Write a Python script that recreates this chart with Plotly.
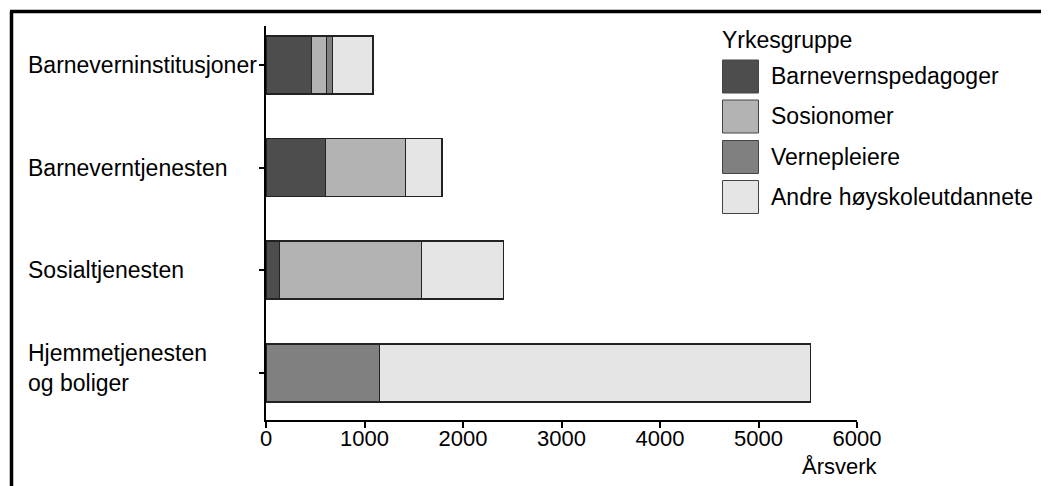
import plotly.graph_objects as go

# ---- data ----
categories = ["Barneverninstitusjoner", "Barneverntjenesten", "Sosialtjenesten", "Hjemmetjenesten og boliger"]
category_labels = ["Barneverninstitusjoner", "Barneverntjenesten", "Sosialtjenesten", "Hjemmetjenesten<br>og boliger"]
series_names = ["Barnevernspedagoger", "Sosionomer", "Vernepleiere", "Andre høyskoleutdannete"]
barnevernspedagoger = [464, 605, 135, None]
sosionomer = [148, 813, 1445, None]
vernepleiere = [65, None, None, 1150]
andre = [409, 371, 832, 4380]
x_ticks = [0, 1000, 2000, 3000, 4000, 5000, 6000]
legend_title = "Yrkesgruppe"
x_title = "Årsverk"

colors = ["#4d4d4d", "#b3b3b3", "#808080", "#e5e5e5"]
FONT = "Liberation Sans, Arial, Helvetica, sans-serif"
FS = 23
FS_TICK = 22

OFF = 8  # page body margin offset
W, H = 1049, 486
L, T = 266 - OFF, 26 - OFF
R = W - (857 - OFF)
B = H - (420 - OFF)
PW, PH = W - L - R, H - T - B


def px(x):
    return (x - OFF - L) / PW


def py(y):
    return 1 - (y - OFF - T) / PH


fig = go.Figure()
for name, vals, col in zip(series_names, [barnevernspedagoger, sosionomer, vernepleiere, andre], colors):
    fig.add_trace(go.Bar(
        y=categories, x=vals, name=name, orientation="h",
        marker=dict(color=col, line=dict(color="#222222", width=1.5)),
        width=0.565, showlegend=False,
    ))

shapes = []
annotations = []

# category labels (left aligned)
for cat, lab in zip(categories, category_labels):
    annotations.append(dict(
        x=px(26), xref="paper", y=cat, yref="y", text=lab, showarrow=False,
        xanchor="left", yanchor="middle", align="left",
        yshift=5 if "<br>" in lab else 0,
        font=dict(family=FONT, size=FS, color="black"),
    ))

# legend (custom, large swatches)
annotations.append(dict(
    x=px(720), xref="paper", y=py(40), yref="paper", text=legend_title, showarrow=False,
    xanchor="left", yanchor="middle", font=dict(family=FONT, size=FS, color="black"),
))
row_top = [60, 100, 140.5, 180.5]
for name, col, top in zip(series_names, colors, row_top):
    shapes.append(dict(
        type="rect", xref="paper", yref="paper",
        x0=px(722.5), x1=px(758.5), y0=py(top), y1=py(top + 33),
        fillcolor=col, line=dict(color="#444444", width=1),
    ))
    annotations.append(dict(
        x=px(769), xref="paper", y=py(top + 16.5), yref="paper", text=name, showarrow=False,
        xanchor="left", yanchor="middle", font=dict(family=FONT, size=FS, color="black"),
    ))

# axis title
annotations.append(dict(
    x=px(840), xref="paper", y=py(466), yref="paper", text=x_title, showarrow=False,
    xanchor="center", yanchor="middle", font=dict(family=FONT, size=FS_TICK, color="black"),
))

# outer frame (partially visible)
shapes.append(dict(type="line", xref="paper", yref="paper",
                   x0=px(11.5), x1=px(11.5), y0=py(520), y1=py(11.5),
                   line=dict(color="black", width=3.5)))
shapes.append(dict(type="line", xref="paper", yref="paper",
                   x0=px(10), x1=px(1080), y0=py(11.5), y1=py(11.5),
                   line=dict(color="black", width=3.5)))

fig.update_layout(
    width=W, height=H,
    margin=dict(l=L, r=R, t=T, b=B, pad=0),
    barmode="stack",
    plot_bgcolor="white", paper_bgcolor="white",
    font=dict(family=FONT, size=FS, color="black"),
    shapes=shapes, annotations=annotations,
    showlegend=False,
    xaxis=dict(
        range=[0, 6000], tickvals=x_ticks, ticktext=[str(v) for v in x_ticks],
        showline=True, linecolor="black", linewidth=2,
        ticks="outside", ticklen=6, tickwidth=2, tickcolor="black",
        ticklabelstandoff=-8,
        showgrid=False, zeroline=False, fixedrange=True,
        tickfont=dict(family=FONT, size=FS_TICK, color="black"),
    ),
    yaxis=dict(
        type="category", categoryorder="array", categoryarray=categories,
        range=[3.46, -0.38],
        showline=True, linecolor="black", linewidth=2,
        ticks="outside", ticklen=5, tickwidth=2, tickcolor="black",
        showticklabels=False, showgrid=False, zeroline=False, fixedrange=True,
    ),
)

fig.write_html("out.html")
